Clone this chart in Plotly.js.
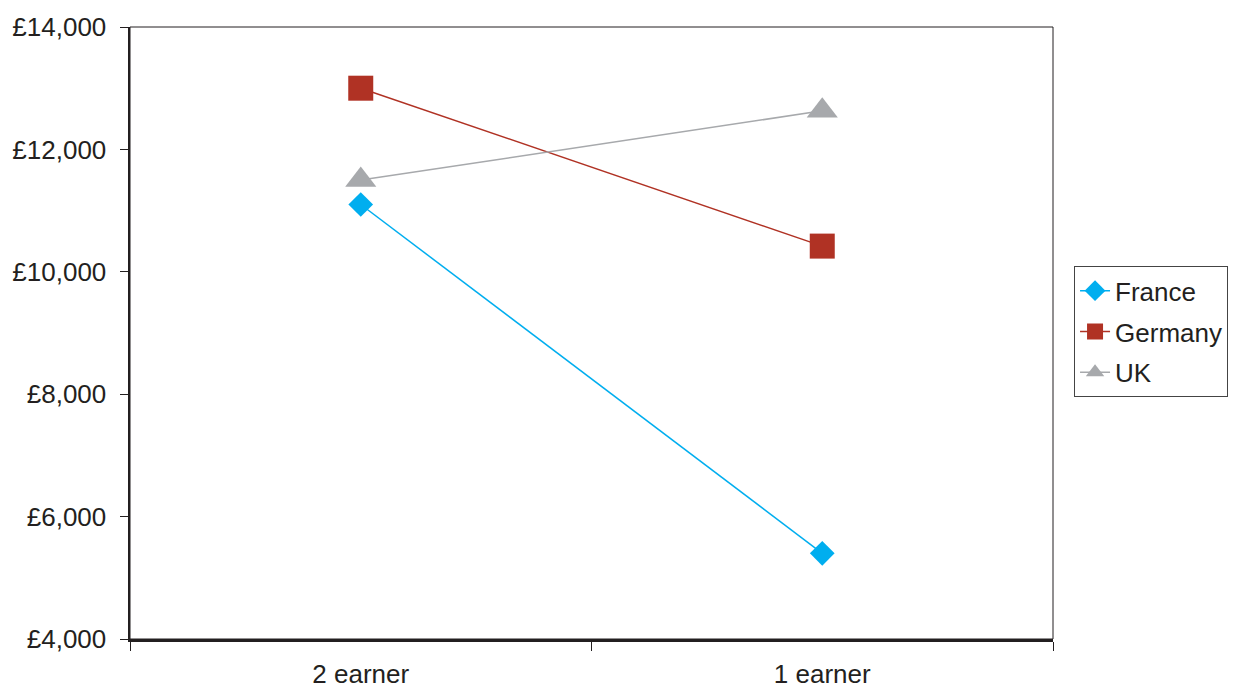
<!DOCTYPE html>
<html>
<head>
<meta charset="utf-8">
<script src="https://cdn.plot.ly/plotly-3.0.1.min.js"></script>
<style>
  html, body { margin: 0; padding: 0; background: #ffffff; }
  #chart { width: 1256px; height: 690px; }
</style>
</head>
<body>
<div id="chart"></div>
<script>
// Household type categories on the x axis
const categories = ["2 earner", "1 earner"];

// Values in pounds for each country
const france = [11100, 5400];
const germany = [13000, 10420];
const uk = [11500, 12630];

// Y axis ticks and their labels
const yTicks = [4000, 6000, 8000, 10000, 12000, 14000];
const yTickLabels = ["£4,000", "£6,000", "£8,000", "£10,000", "£12,000", "£14,000"];

const textColor = "#231f20";
const fontFamily = "Liberation Sans, Arial, Helvetica, sans-serif";

const traces = [
  {
    name: "France", legendgroup: "fr", x: categories, y: france, type: "scatter", mode: "lines+markers",
    line: { color: "#00aeef", width: 1.5 },
    marker: { symbol: "diamond", size: 19, color: "#00aeef" }
  },
  {
    name: "Germany", legendgroup: "de", x: categories, y: germany, type: "scatter", mode: "lines+markers",
    line: { color: "#b03224", width: 1.5 },
    marker: { symbol: "square", size: 25, color: "#b03224" }
  },
  {
    name: "UK", legendgroup: "uk", x: categories, y: uk, type: "scatter", mode: "lines+markers",
    line: { color: "#a7a9ac", width: 1.5 },
    marker: { symbol: "triangle-up", size: 27, color: "#a7a9ac" }
  }
];

const layout = {
  width: 1256, height: 690,
  margin: { l: 130, r: 203, t: 27, b: 51 },
  paper_bgcolor: "#ffffff",
  plot_bgcolor: "#ffffff",
  font: { family: fontFamily, size: 26, color: textColor },
  showlegend: true,
  legend: {
    x: 1.0228, xanchor: "left", y: 0.502, yanchor: "middle",
    bordercolor: "#444444", borderwidth: 1, bgcolor: "#ffffff",
    font: { family: fontFamily, size: 26, color: textColor },
    traceorder: "grouped", tracegroupgap: 4, itemwidth: 30
  },
  xaxis: {
    type: "category",
    range: [-0.5, 1.5],
    tickson: "boundaries",
    ticks: "outside", ticklen: 9, tickwidth: 1, tickcolor: textColor,
    showline: true, linecolor: textColor, linewidth: 2.5,
    showgrid: false, zeroline: false,
    ticklabelstandoff: 10,
    tickfont: { family: fontFamily, size: 26, color: textColor }
  },
  yaxis: {
    range: [4000, 14000],
    tickmode: "array",
    tickvals: yTicks,
    ticktext: yTickLabels,
    ticks: "outside", ticklen: 8, tickwidth: 1, tickcolor: textColor,
    showline: true, linecolor: textColor, linewidth: 2.5,
    showgrid: false, zeroline: false,
    ticklabelstandoff: 8,
    tickfont: { family: fontFamily, size: 26, color: textColor }
  },
  shapes: [
    {
      type: "rect", xref: "paper", yref: "paper", x0: 0, x1: 1, y0: 0, y1: 1,
      line: { color: textColor, width: 1 }, layer: "below"
    }
  ]
};

Plotly.newPlot("chart", traces, layout, { displayModeBar: false, staticPlot: true });
</script>
</body>
</html>
